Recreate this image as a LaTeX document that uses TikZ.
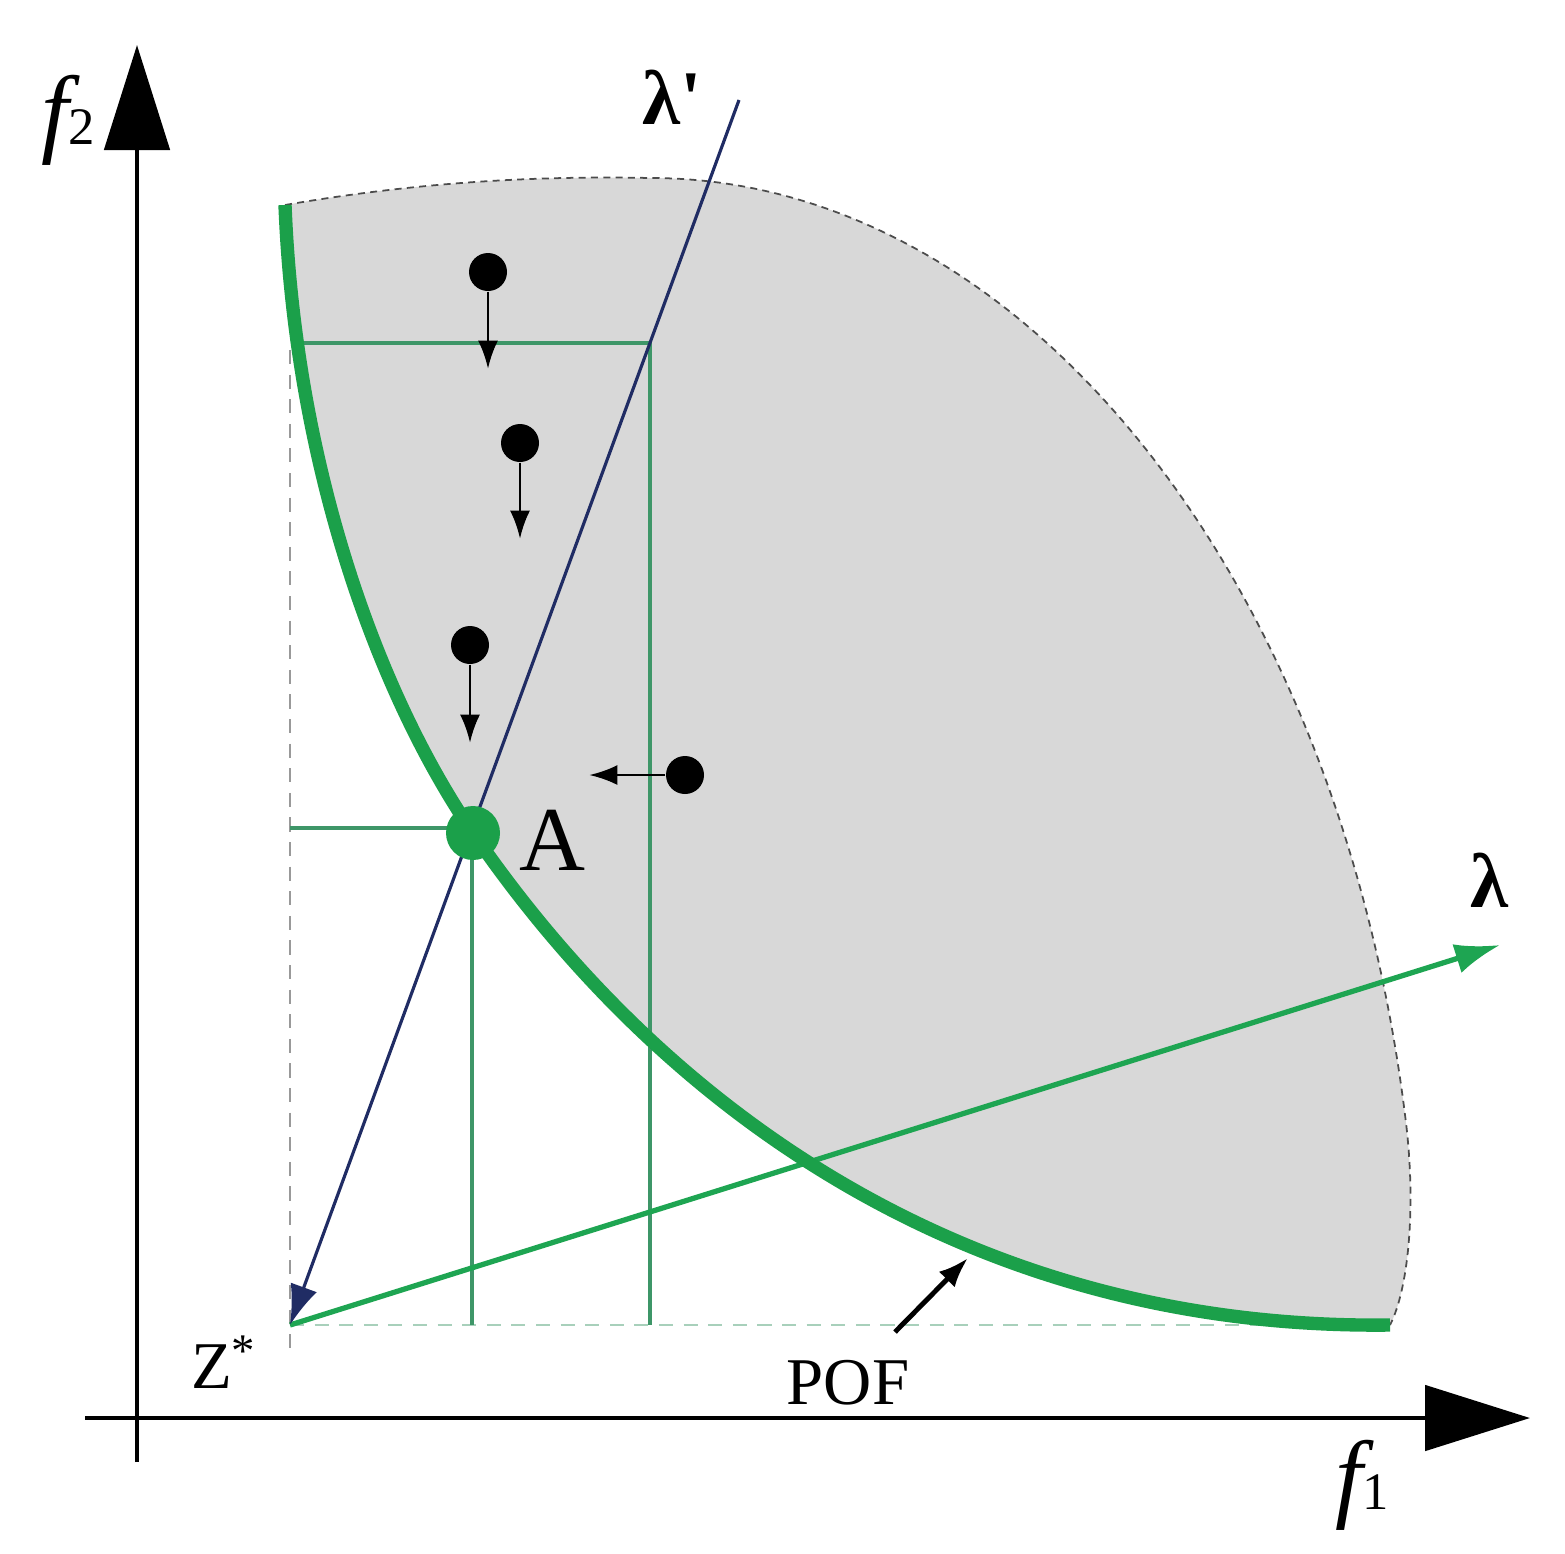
\documentclass[tikz,border=0pt]{standalone}
\usepackage{fontspec}
\setmainfont{Liberation Serif}
\usetikzlibrary{arrows,arrows.meta,positioning}
\definecolor{pofgreen}{RGB}{27,160,74}
\definecolor{gridgreen}{RGB}{62,150,104}
\definecolor{lamgreen}{RGB}{30,165,82}
\definecolor{lamblue}{RGB}{32,44,100}
\definecolor{regiongray}{RGB}{216,216,216}
\tikzset{font=\small}
\tikzset{every node/.append style={transform shape=false}}
\tikzset{dot/.style={circle,fill=black,inner sep=0pt,minimum size=3.8mm},
  move/.style={line width=0.8pt,-{Latex[length=2.8mm,width=2mm]}},
  axis/.style={line width=1.4pt,-{Triangle[length=10.5mm,width=6.5mm]}},
  grid/.style={gridgreen,line width=1.1pt}}
\newcommand{\axlab}[1]{{\fontsize{28}{30}\selectfont\itshape f}{\fontsize{15}{16}\selectfont #1}}

\begin{document}
\begin{tikzpicture}
\useasboundingbox (0,0) rectangle (15.65,-15.53);
% region
\fill[regiongray] (2.85,-2.05) .. controls (4.3,-1.8) and (5.5,-1.76) .. (6.5,-1.78)
  arc[start angle=90,end angle=10,x radius=7.68,y radius=11.47]
  .. controls (14.16,-12.11) and (14.08,-12.9) .. (13.9,-13.25)
  .. controls (9.8,-13.3) and (6.7,-11.2) .. (4.73,-8.33)
  .. controls (3.75,-6.9) and (2.95,-4.6) .. (2.85,-2.05) -- cycle;
\draw[gray!60!black,line width=0.5pt,dash pattern=on 2pt off 1.5pt]
  (2.85,-2.05) .. controls (4.3,-1.8) and (5.5,-1.76) .. (6.5,-1.78)
  arc[start angle=90,end angle=10,x radius=7.68,y radius=11.47]
  .. controls (14.16,-12.11) and (14.08,-12.9) .. (13.9,-13.25);
\coordinate (Z) at (2.9,-13.25);
\coordinate (top) at (7.39,-1.0);
\coordinate (lam) at (15.0,-9.45);
\coordinate (B) at (6.5,-3.43);
\coordinate (Bl) at (2.98,-3.43);
\coordinate (Bd) at (6.5,-13.25);
\coordinate (Al) at (2.9,-8.28);
\coordinate (Ad) at (4.72,-13.25);
\coordinate (Zu) at (2.9,-3.5);
\coordinate (Zd) at (2.9,-13.55);
\coordinate (E) at (13.9,-13.25);
\draw[gray!80,line width=0.8pt,dash pattern=on 4pt off 3pt] (Zu) -- (Zd);
\draw[gridgreen!45,line width=0.8pt,dash pattern=on 4pt off 3pt] (Z) -- (E);
% grid lines
\draw[grid] (Bl) -- (B) -- (Bd);
\draw[grid] (Al) -- (4.72,-8.28) -- (Ad);
\draw[lamgreen,line width=1.5pt,-{Latex[length=4.5mm,width=3mm]}] (Z) -- (lam);
\draw[lamblue,line width=0.9pt,-{Latex[length=4mm,width=2.8mm]}] (top) -- (Z);
% POF
\draw[pofgreen,line width=3.8pt] (2.85,-2.05) .. controls (2.95,-4.6) and (3.75,-6.9) .. (4.73,-8.33)
  .. controls (6.7,-11.2) and (9.8,-13.3) .. (E);
\node[circle,fill=pofgreen,inner sep=0pt,minimum size=5.4mm] (A) at (4.73,-8.33) {};
\node[font=\fontsize{26}{28}\selectfont] (Alab) at (5.52,-8.4) {A};
% points
\node[dot] (p1) at (4.88,-2.72) {};
\node[dot] (p2) at (5.2,-4.43) {};
\node[dot] (p3) at (4.7,-6.45) {};
\node[dot] (p4) at (6.85,-7.75) {};
\coordinate[below=7.7mm of p1] (q1);
\coordinate[below=7.6mm of p2] (q2);
\coordinate[below=7.8mm of p3] (q3);
\coordinate[left=7.6mm of p4] (q4);
\foreach \i in {1,...,4} \draw[move] (p\i) -- (q\i);
% axes
\coordinate (yb) at (1.37,-14.62);
\coordinate (yt) at (1.37,-0.45);
\coordinate (xl) at (0.85,-14.18);
\coordinate (xr) at (15.3,-14.18);
\draw[axis] (yb) -- (yt);
\draw[axis] (xl) -- (xr);
\node (f2) at (0.68,-1.2) {\axlab{2}};
\node (f1) at (13.62,-14.85) {\axlab{1}};
\node[font=\fontsize{22}{24}\selectfont] (lp) at (6.72,-0.97) {\textbf{λ\textquotesingle}};
\node[font=\fontsize{22}{24}\selectfont] (l) at (14.9,-8.8) {\textbf{λ}};
\node[font=\fontsize{19}{21}\selectfont] (zs) at (2.24,-13.62) {Z\textsuperscript{*}};
\node[font=\fontsize{19}{21}\selectfont] (pof) at (8.48,-13.83) {POF};
\coordinate (pofa) at (8.95,-13.32);
\coordinate (pofb) at (9.68,-12.58);
\draw[line width=1.4pt,-{Latex[length=3mm,width=2.2mm]}] (pofa) -- (pofb);
\end{tikzpicture}
\end{document}
